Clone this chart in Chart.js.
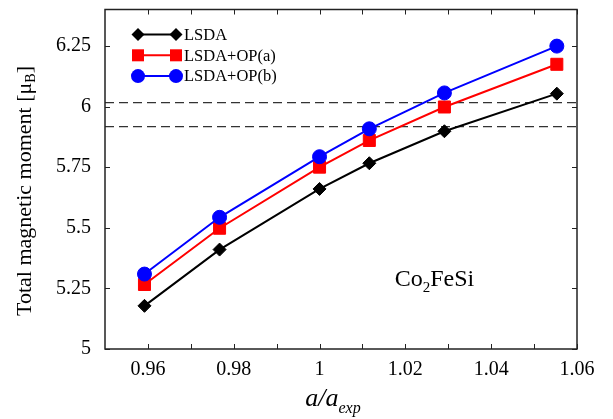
<!DOCTYPE html>
<html>
<head>
<meta charset="utf-8">
<script src="https://cdn.jsdelivr.net/npm/chart.js@4"></script>
<style>
  body { margin: 0; background: #fff; }
  #wrap { width: 613px; height: 419px; }
</style>
</head>
<body>
<div id="wrap"><canvas id="momentChart"></canvas></div>
<script>
  // lattice ratio a/a_exp
  const xRatio = [0.9592, 0.9767, 1.0, 1.0116, 1.0291, 1.0553];
  const lsda = [5.178, 5.41, 5.66, 5.766, 5.898, 6.053];
  const opA = [5.266, 5.498, 5.75, 5.86, 5.998, 6.174];
  const opB = [5.309, 5.543, 5.793, 5.908, 6.056, 6.249];
  const refLines = [6.016, 5.917];
  const xTicks = [0.96, 0.98, 1.0, 1.02, 1.04, 1.06];
  const xMinor = [0.97, 0.99, 1.01, 1.03, 1.05];
  const yTicks = [5, 5.25, 5.5, 5.75, 6, 6.25];
  const labels = ["LSDA", "LSDA+OP(a)", "LSDA+OP(b)"];

  const serif = "'Liberation Serif', 'DejaVu Serif', serif";
  const pts = (ys) => xRatio.map((x, i) => ({ x: x, y: ys[i] }));

  function series(label, ys, color, style, radius, order) {
    return {
      label: label,
      data: pts(ys),
      showLine: true,
      borderColor: color,
      backgroundColor: color,
      borderWidth: 2,
      pointStyle: style,
      pointRadius: radius,
      pointHoverRadius: radius,
      pointBorderWidth: 1,
      order: order,
    };
  }

  function refLine(y) {
    return {
      label: "ref",
      data: [{ x: 0.95, y: y }, { x: 1.06, y: y }],
      showLine: true,
      borderColor: "#333",
      borderWidth: 1.3,
      borderDash: [9, 5],
      pointRadius: 0,
      order: 4,
    };
  }

  function marker(ctx, style, x, y, r, color) {
    ctx.fillStyle = color;
    ctx.beginPath();
    if (style === "circle") {
      ctx.arc(x, y, r, 0, Math.PI * 2);
    } else if (style === "rect") {
      const s = r * Math.SQRT1_2;
      ctx.rect(x - s, y - s, 2 * s, 2 * s);
    } else {
      ctx.moveTo(x - r, y);
      ctx.lineTo(x, y - r);
      ctx.lineTo(x + r, y);
      ctx.lineTo(x, y + r);
      ctx.closePath();
    }
    ctx.fill();
  }

  const decorations = {
    id: "decorations",
    afterDraw(chart) {
      const ctx = chart.ctx;
      const a = chart.chartArea;
      const xs = chart.scales.x;
      const ys = chart.scales.y;
      ctx.save();

      // frame
      ctx.strokeStyle = "#222";
      ctx.lineWidth = 1.5;
      ctx.strokeRect(a.left, a.top, a.right - a.left, a.bottom - a.top);

      // inward ticks
      ctx.lineWidth = 1;
      ctx.beginPath();
      xTicks.concat(xMinor).forEach((v) => {
        const px = Math.round(xs.getPixelForValue(v)) + 0.5;
        ctx.moveTo(px, a.bottom);
        ctx.lineTo(px, a.bottom - 5);
        ctx.moveTo(px, a.top);
        ctx.lineTo(px, a.top + 5);
      });
      yTicks.forEach((v) => {
        const py = Math.round(ys.getPixelForValue(v)) + 0.5;
        ctx.moveTo(a.left, py);
        ctx.lineTo(a.left + 5, py);
        ctx.moveTo(a.right, py);
        ctx.lineTo(a.right - 5, py);
      });
      ctx.stroke();

      // legend
      const sets = chart.data.datasets.slice(0, 3);
      sets.forEach((ds, i) => {
        const y = a.top + 25 + i * 20.8;
        const x0 = a.left + 33;
        const x1 = a.left + 71;
        ctx.strokeStyle = ds.borderColor;
        ctx.lineWidth = 2;
        ctx.beginPath();
        ctx.moveTo(x0, y);
        ctx.lineTo(x1, y);
        ctx.stroke();
        marker(ctx, ds.pointStyle, x0, y, ds.pointRadius, ds.backgroundColor);
        marker(ctx, ds.pointStyle, x1, y, ds.pointRadius, ds.backgroundColor);
        ctx.fillStyle = "#000";
        ctx.font = "16.5px " + serif;
        ctx.textBaseline = "middle";
        ctx.textAlign = "left";
        ctx.fillText(ds.label, x1 + 8, y + 1);
      });

      // compound label
      ctx.fillStyle = "#000";
      ctx.textBaseline = "alphabetic";
      let tx = xs.getPixelForValue(1.0175);
      const ty = ys.getPixelForValue(5.258);
      ctx.font = "24px " + serif;
      ctx.fillText("Co", tx, ty);
      tx += ctx.measureText("Co").width;
      ctx.font = "15px " + serif;
      ctx.fillText("2", tx, ty + 6);
      tx += ctx.measureText("2").width;
      ctx.font = "24px " + serif;
      ctx.fillText("FeSi", tx, ty);

      // x title a/a_exp
      ctx.font = "italic 26px " + serif;
      const w1 = ctx.measureText("a/a").width;
      ctx.font = "italic 16px " + serif;
      const w2 = ctx.measureText("exp").width;
      let bx = (a.left + a.right) / 2 - 8 - (w1 + w2) / 2;
      ctx.font = "italic 26px " + serif;
      ctx.fillText("a/a", bx, 406);
      ctx.font = "italic 16px " + serif;
      ctx.fillText("exp", bx + w1, 413);

      // y title
      ctx.translate(25, 191);
      ctx.rotate(-Math.PI / 2);
      ctx.font = "22px " + serif;
      const main = "Total magnetic moment [\u03bc";
      const mw = ctx.measureText(main).width;
      ctx.font = "14px " + serif;
      const sw = ctx.measureText("B").width;
      ctx.font = "22px " + serif;
      const cw = ctx.measureText("]").width;
      let sx = -(mw + sw + cw) / 2;
      ctx.textBaseline = "middle";
      ctx.fillText(main, sx, 0);
      ctx.font = "14px " + serif;
      ctx.fillText("B", sx + mw, 6);
      ctx.font = "22px " + serif;
      ctx.fillText("]", sx + mw + sw, 0);

      ctx.restore();
    },
  };

  const fmt = (v) => String(+Number(v).toFixed(2));

  new Chart(document.getElementById("momentChart"), {
    type: "scatter",
    data: {
      datasets: [
        series(labels[0], lsda, "#000000", "rectRot", 6.5, 3),
        series(labels[1], opA, "#ff0000", "rect", 8.5, 2),
        series(labels[2], opB, "#0000ff", "circle", 7, 1),
        refLine(refLines[0]),
        refLine(refLines[1]),
      ],
    },
    options: {
      responsive: true,
      maintainAspectRatio: false,
      animation: false,
      layout: { padding: { top: 5, right: 36, left: 0, bottom: 0 } },
      scales: {
        x: {
          type: "linear",
          min: 0.95,
          max: 1.06,
          afterBuildTicks: (s) => { s.ticks = xTicks.map((v) => ({ value: v })); },
          afterFit: (s) => { s.height = 70; s.paddingLeft = 0; s.paddingRight = 0; },
          grid: { display: false, drawTicks: false },
          border: { display: false },
          ticks: {
            callback: fmt,
            color: "#000",
            padding: 9,
            maxRotation: 0,
            font: { family: serif, size: 20 },
          },
        },
        y: {
          type: "linear",
          min: 5,
          max: 6.4,
          afterBuildTicks: (s) => { s.ticks = yTicks.map((v) => ({ value: v })); },
          afterFit: (s) => { s.width = 105; s.paddingTop = 0; s.paddingBottom = 0; },
          grid: { display: false, drawTicks: false },
          border: { display: false },
          ticks: {
            callback: fmt,
            color: "#000",
            padding: 14,
            font: { family: serif, size: 20 },
          },
        },
      },
      plugins: {
        legend: { display: false },
        tooltip: { enabled: false },
      },
    },
    plugins: [decorations],
  });
</script>
</body>
</html>
